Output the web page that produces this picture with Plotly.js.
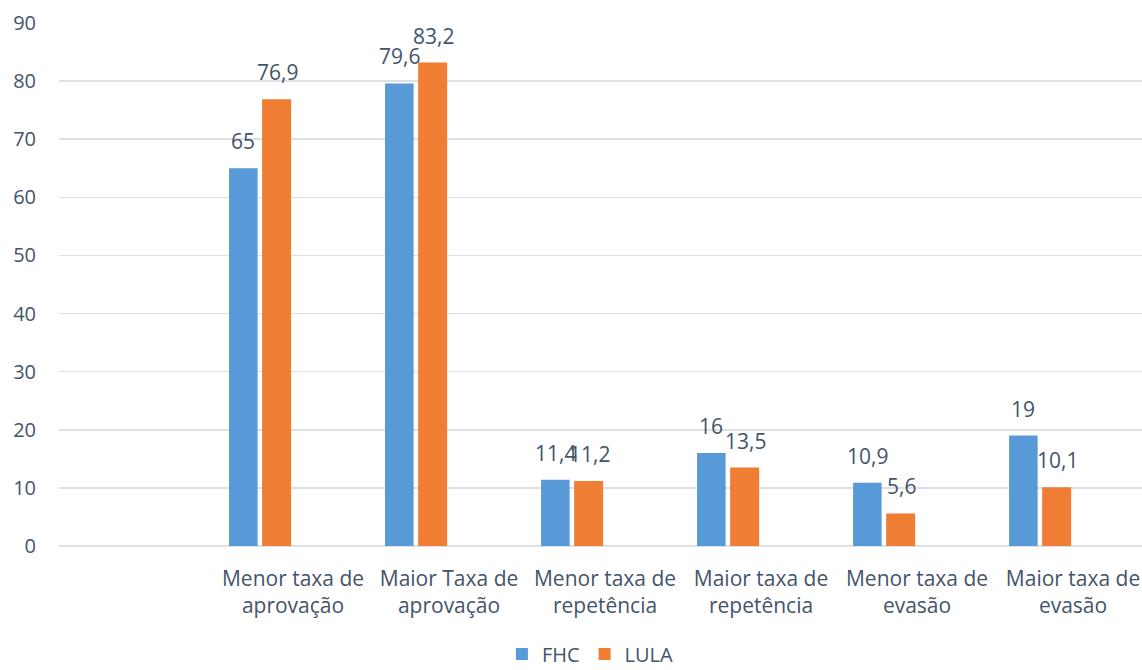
<!DOCTYPE html>
<html>
<head>
<meta charset="utf-8">
<script src="https://cdn.plot.ly/plotly-3.0.1.min.js"></script>
<style>html,body{margin:0;padding:0;background:#fff;}#chart{width:1142px;height:670px;}</style>
</head>
<body>
<div id="chart"></div>
<script>
const categories = [
  "Menor taxa de<br>aprovação",
  "Maior Taxa de<br>aprovação",
  "Menor taxa de<br>repetência",
  "Maior taxa de<br>repetência",
  "Menor taxa de<br>evasão",
  "Maior taxa de<br>evasão"
];
const fhc = [65, 79.6, 11.4, 16, 10.9, 19];
const lula = [76.9, 83.2, 11.2, 13.5, 5.6, 10.1];
const fhcLabels = ["65", "79,6", "11,4", "16", "10,9", "19"];
const lulaLabels = ["76,9", "83,2", "11,2", "13,5", "5,6", "10,1"];
const yTicks = [0, 10, 20, 30, 40, 50, 60, 70, 80, 90];

const textColor = "#44546a";
const fontFam = "'Open Sans', 'Noto Sans', sans-serif";

const traces = [
  {type: "bar", name: "FHC", x: categories, y: fhc, width: 0.183, offset: -0.41,
   marker: {color: "#5899d7"}, hoverinfo: "skip"},
  {type: "bar", name: "LULA", x: categories, y: lula, width: 0.186, offset: -0.198,
   marker: {color: "#ef7d33"}, hoverinfo: "skip"}
];

const annotations = [];
categories.forEach((c, i) => {
  annotations.push({x: c, y: fhc[i], text: fhcLabels[i], xref: "x", yref: "y", showarrow: false,
    xanchor: "center", yanchor: "bottom", xshift: -50, yshift: 11,
    font: {size: 21, color: textColor, family: fontFam}});
  annotations.push({x: c, y: lula[i], text: lulaLabels[i], xref: "x", yref: "y", showarrow: false,
    xanchor: "center", yanchor: "bottom", xshift: -16, yshift: 11,
    font: {size: 21, color: textColor, family: fontFam}});
});

const layout = {
  width: 1142, height: 670,
  margin: {l: 59, r: 0, t: 23, b: 124, pad: 0, autoexpand: false},
  paper_bgcolor: "#ffffff", plot_bgcolor: "#ffffff",
  font: {family: fontFam, size: 20, color: textColor},
  showlegend: true,
  legend: {orientation: "h", xref: "container", yref: "container", x: 0.517, xanchor: "center",
    y: 0.024, yanchor: "middle", itemwidth: 30,
    font: {size: 20, color: textColor, family: fontFam}, bgcolor: "rgba(0,0,0,0)"},
  xaxis: {type: "category", range: [-1.5, 5.442], showgrid: false, zeroline: false,
    showline: false, ticks: "", ticklabelstandoff: 18, automargin: false,
    tickfont: {size: 21, color: textColor, family: fontFam}, fixedrange: true},
  yaxis: {range: [0, 90], tickvals: yTicks, showgrid: true, gridcolor: "#dde1e6", gridwidth: 1.5,
    zeroline: true, zerolinecolor: "#dde1e6", zerolinewidth: 1.5, showline: false, ticks: "",
    ticklen: 0, ticklabelstandoff: 22, automargin: false,
    tickfont: {size: 20, color: textColor, family: fontFam}, fixedrange: true},
  annotations: annotations
};

Plotly.newPlot("chart", traces, layout, {displayModeBar: false, staticPlot: true});
</script>
</body>
</html>
